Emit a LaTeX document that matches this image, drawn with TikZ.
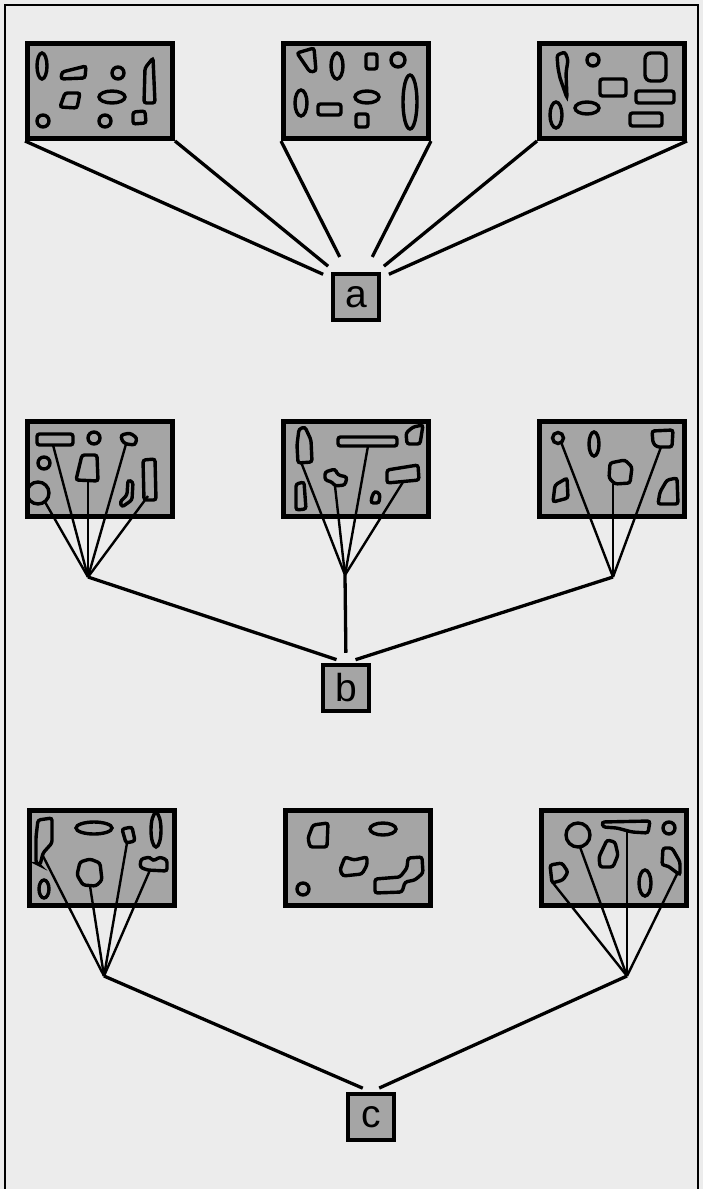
\documentclass[tikz,border=0pt]{standalone}
\usepackage{fontspec}
\setmainfont{Liberation Sans}
\usetikzlibrary{positioning}
\definecolor{paper}{RGB}{236,236,236}
\definecolor{panelgray}{RGB}{165,165,165}
\begin{document}
\begin{tikzpicture}[x=1pt, y=-1pt, node distance=256pt,
    panel/.style={draw, line width=5pt, fill=panelgray, minimum width=145pt, minimum height=95pt, inner sep=0pt},
    lbl/.style={draw, line width=4.5pt, fill=panelgray, minimum size=46pt, inner sep=0pt, font=\fontsize{39}{41}\selectfont},
    blob/.style={draw, line width=3.4pt, rounded corners=2.5pt},
    trunk/.style={line width=3.3pt},
    twig/.style={line width=2.4pt}]

      \useasboundingbox (0,0) rectangle (703,1189);
      \fill[paper] (0,0) rectangle (703,1189);
      \draw[line width=1.8pt] (5,1189) -- (5,5) -- (698,5) -- (698,1189);

      \node[panel] (p1) at (100,91) {};
      \node[panel, right of=p1] (p2) {};
      \node[panel, right of=p2] (p3) {};
      \node[lbl, below of=p2, yshift=50pt] (a) {a};

      \node[panel, below of=p1, yshift=-122pt] (q1) {};
      \node[panel, right of=q1] (q2) {};
      \node[panel, right of=q2] (q3) {};
      \node[lbl, below of=q2, yshift=37pt, xshift=-10pt] (b) {b};

      \node[panel, below of=q1, yshift=-133pt, xshift=2pt] (r1) {};
      \node[panel, right of=r1] (r2) {};
      \node[panel, right of=r2] (r3) {};
      \node[lbl, below of=r2, yshift=-3pt, xshift=13pt] (c) {c};

      % top row
      \draw[blob] (42,66) ellipse (5pt and 13pt);
      \draw[blob] (62,72) -- (86,66) -- (85,78) -- (61,79) -- cycle;
      \draw[blob] (118,73) circle (6pt);
      \draw[blob] (153,58) -- (155,103) -- (144,103) -- (145,68) -- cycle;
      \draw[blob] (65,93) -- (80,93) -- (77,108) -- (60,107) -- cycle;
      \draw[blob] (112,97) ellipse (13pt and 6pt);
      \draw[blob] (43,121) circle (6pt);
      \draw[blob] (105,121) circle (6pt);
      \draw[blob] (133,112) -- (145,111) -- (146,123) -- (133,124) -- cycle;

      \draw[blob] (297,53) -- (314,48) -- (316,71) -- (310,72) -- cycle;
      \draw[blob] (337,66) ellipse (6pt and 13pt);
      \draw[blob] (366,54) rectangle (377,69);
      \draw[blob] (398,60) circle (7pt);
      \draw[blob] (301,103) ellipse (6pt and 13pt);
      \draw[blob] (318,104) rectangle (341,115);
      \draw[blob] (367,97) ellipse (12pt and 6pt);
      \draw[blob] (356,114) rectangle (368,127);
      \draw[blob] (410,102) ellipse (7pt and 27pt);

      \draw[blob] (557,55) -- (565,52) -- (568,60) -- (566,73) -- (567,98) -- (560,78) -- (558,68) -- cycle;
      \draw[blob] (593,60) circle (6pt);
      \draw[blob, rounded corners=6pt] (645,81) -- (645,53) -- (666,53) -- (666,81) -- cycle;
      \draw[blob] (600,79) rectangle (626,96);
      \draw[blob] (636,91) rectangle (674,103);
      \draw[blob] (556,115) ellipse (6pt and 13pt);
      \draw[blob] (587,108) ellipse (12pt and 6pt);
      \draw[blob] (630,113) rectangle (662,126);

      % middle row
      \draw[blob] (37,434) rectangle (73,445);
      \draw[blob] (94,438) circle (6pt);
      \draw[blob] (121,435) -- (130,433) -- (137,438) -- (135,445) -- (126,444) -- (122,441) -- cycle;
      \draw[blob] (44,463) circle (6pt);
      \draw[blob] (82,455) -- (97,455) -- (98,481) -- (76,480) -- cycle;
      \draw[blob] (38,493) circle (11pt);
      \draw[blob] (128,480) -- (133,482) -- (132,500) -- (122,507) -- (120,502) -- (127,495) -- cycle;
      \draw[blob] (143,460) -- (155,459) -- (156,500) -- (144,500) -- cycle;

      \draw[blob] (299,429) -- (305,427) -- (311,440) -- (312,462) -- (298,463) -- (297,445) -- cycle;
      \draw[blob] (338,437) rectangle (397,446);
      \draw[blob] (413,427) -- (423,425) -- (420,444) -- (407,444) -- (406,433) -- cycle;
      \draw[blob] (325,472) -- (335,469) -- (338,475) -- (347,477) -- (345,485) -- (335,486) -- (332,482) -- (325,480) -- cycle;
      \draw[blob] (387,470) -- (418,465) -- (419,480) -- (387,483) -- cycle;
      \draw[blob] (296,484) -- (304,482) -- (306,509) -- (296,510) -- cycle;
      \draw[blob] (375,491) -- (380,494) -- (379,503) -- (371,503) -- (372,496) -- cycle;

      \draw[blob] (558,438) circle (5.5pt);
      \draw[blob] (594,444) ellipse (5pt and 12pt);
      \draw[blob] (652,431) -- (673,430) -- (672,447) -- (657,447) -- (653,443) -- cycle;
      \draw[blob] (610,463) -- (625,460) -- (632,467) -- (630,483) -- (615,484) -- (609,478) -- cycle;
      \draw[blob] (555,485) -- (567,478) -- (568,498) -- (553,502) -- cycle;
      \draw[blob] (667,480) -- (677,478) -- (678,504) -- (658,504) -- (660,492) -- cycle;

      % bottom row
      \draw[blob] (38,820) -- (52,818) -- (52,843) -- (43,853) -- (40,865) -- (36,863) -- (36,837) -- cycle;
      \draw[blob] (94,828) ellipse (18pt and 6pt);
      \draw[blob] (122,829) -- (132,827) -- (135,841) -- (126,843) -- cycle;
      \draw[blob] (156,830) ellipse (5pt and 17pt);
      \draw[blob] (80,862) -- (90,859) -- (100,863) -- (102,880) -- (96,886) -- (83,885) -- (77,875) -- cycle;
      \draw[blob] (141,859) -- (150,857) -- (153,861) -- (160,857) -- (167,860) -- (167,871) -- (147,870) -- (140,867) -- cycle;
      \draw[blob] (44,889) ellipse (5pt and 9pt);

      \draw[blob] (313,825) -- (328,823) -- (327,847) -- (310,847) -- (308,838) -- cycle;
      \draw[blob] (383,829) ellipse (13pt and 6pt);
      \draw[blob] (345,857) -- (354,860) -- (367,857) -- (367,865) -- (362,874) -- (343,876) -- (340,870) -- cycle;
      \draw[blob] (375,879) -- (400,877) -- (407,868) -- (408,858) -- (422,857) -- (423,873) -- (415,880) -- (405,882) -- (402,892) -- (375,893) -- cycle;
      \draw[blob] (303,889) circle (6pt);

      \draw[blob] (578,835) circle (12pt);
      \draw[blob] (602,822) -- (650,821) -- (648,833) -- (632,832) -- (617,828) -- (603,827) -- cycle;
      \draw[blob] (607,840) -- (615,842) -- (618,855) -- (613,867) -- (600,867) -- (599,857) -- cycle;
      \draw[blob] (669,828) circle (6pt);
      \draw[blob] (550,865) -- (562,863) -- (568,872) -- (563,880) -- (552,883) -- cycle;
      \draw[blob] (663,848) -- (672,848) -- (680,862) -- (680,875) -- (668,866) -- (662,865) -- cycle;
      \draw[blob] (645,883) ellipse (6pt and 13pt);

      \coordinate (ta) at ([yshift=8pt]a.center);
      \coordinate (u1) at (88,577);
      \coordinate (u2) at (345,575);
      \coordinate (u3) at (613,577);
      \coordinate (v1) at (104,976);
      \coordinate (v3) at (627,976);

      \coordinate (q1a) at (45,502);
      \coordinate (q1b) at (53,445);
      \coordinate (q1c) at (88,481);
      \coordinate (q1d) at (126,444);
      \coordinate (q1e) at (148,496);
      \coordinate (q2a) at (301,462);
      \coordinate (q2b) at (368,446);
      \coordinate (q2c) at (335,486);
      \coordinate (q2d) at (403,482);
      \coordinate (q3a) at (561,442);
      \coordinate (q3b) at (613,484);
      \coordinate (q3c) at (661,447);
      \coordinate (r1a) at (43,856);
      \coordinate (r1b) at (90,886);
      \coordinate (r1c) at (127,843);
      \coordinate (r1d) at (150,870);
      \coordinate (r3a) at (553,883);
      \coordinate (r3b) at (580,847);
      \coordinate (r3c) at (627,831);
      \coordinate (r3d) at (678,872);

      \draw[trunk, shorten >=36pt] (p1.south west) -- (ta);
      \draw[trunk, shorten >=36pt] (p1.south east) -- (ta);
      \draw[trunk, shorten >=36pt] (p2.south west) -- (ta);
      \draw[trunk, shorten >=36pt] (p2.south east) -- (ta);
      \draw[trunk, shorten >=36pt] (p3.south west) -- (ta);
      \draw[trunk, shorten >=36pt] (p3.south east) -- (ta);

      \draw[twig] (q1a) -- (u1);
      \draw[twig] (q1b) -- (u1);
      \draw[twig] (q1c) -- (u1);
      \draw[twig] (q1d) -- (u1);
      \draw[twig] (q1e) -- (u1);
      \draw[twig] (q2a) -- (u2);
      \draw[twig] (q2b) -- (u2);
      \draw[twig] (q2c) -- (u2);
      \draw[twig] (q2d) -- (u2);
      \draw[twig] (q3a) -- (u3);
      \draw[twig] (q3b) -- (u3);
      \draw[twig] (q3c) -- (u3);

      \draw[trunk, shorten >=10pt] (u1) -- (b.north);
      \draw[trunk, shorten >=10pt] (u2) -- (b.north);
      \draw[trunk, shorten >=10pt] (u3) -- (b.north);

      \draw[twig] (r1a) -- (v1);
      \draw[twig] (r1b) -- (v1);
      \draw[twig] (r1c) -- (v1);
      \draw[twig] (r1d) -- (v1);
      \draw[twig] (r3a) -- (v3);
      \draw[twig] (r3b) -- (v3);
      \draw[twig] (r3c) -- (v3);
      \draw[twig] (r3d) -- (v3);

      \draw[trunk, shorten >=9pt] (v1) -- (c.north);
      \draw[trunk, shorten >=9pt] (v3) -- (c.north);
    \end{tikzpicture}
\end{document}
